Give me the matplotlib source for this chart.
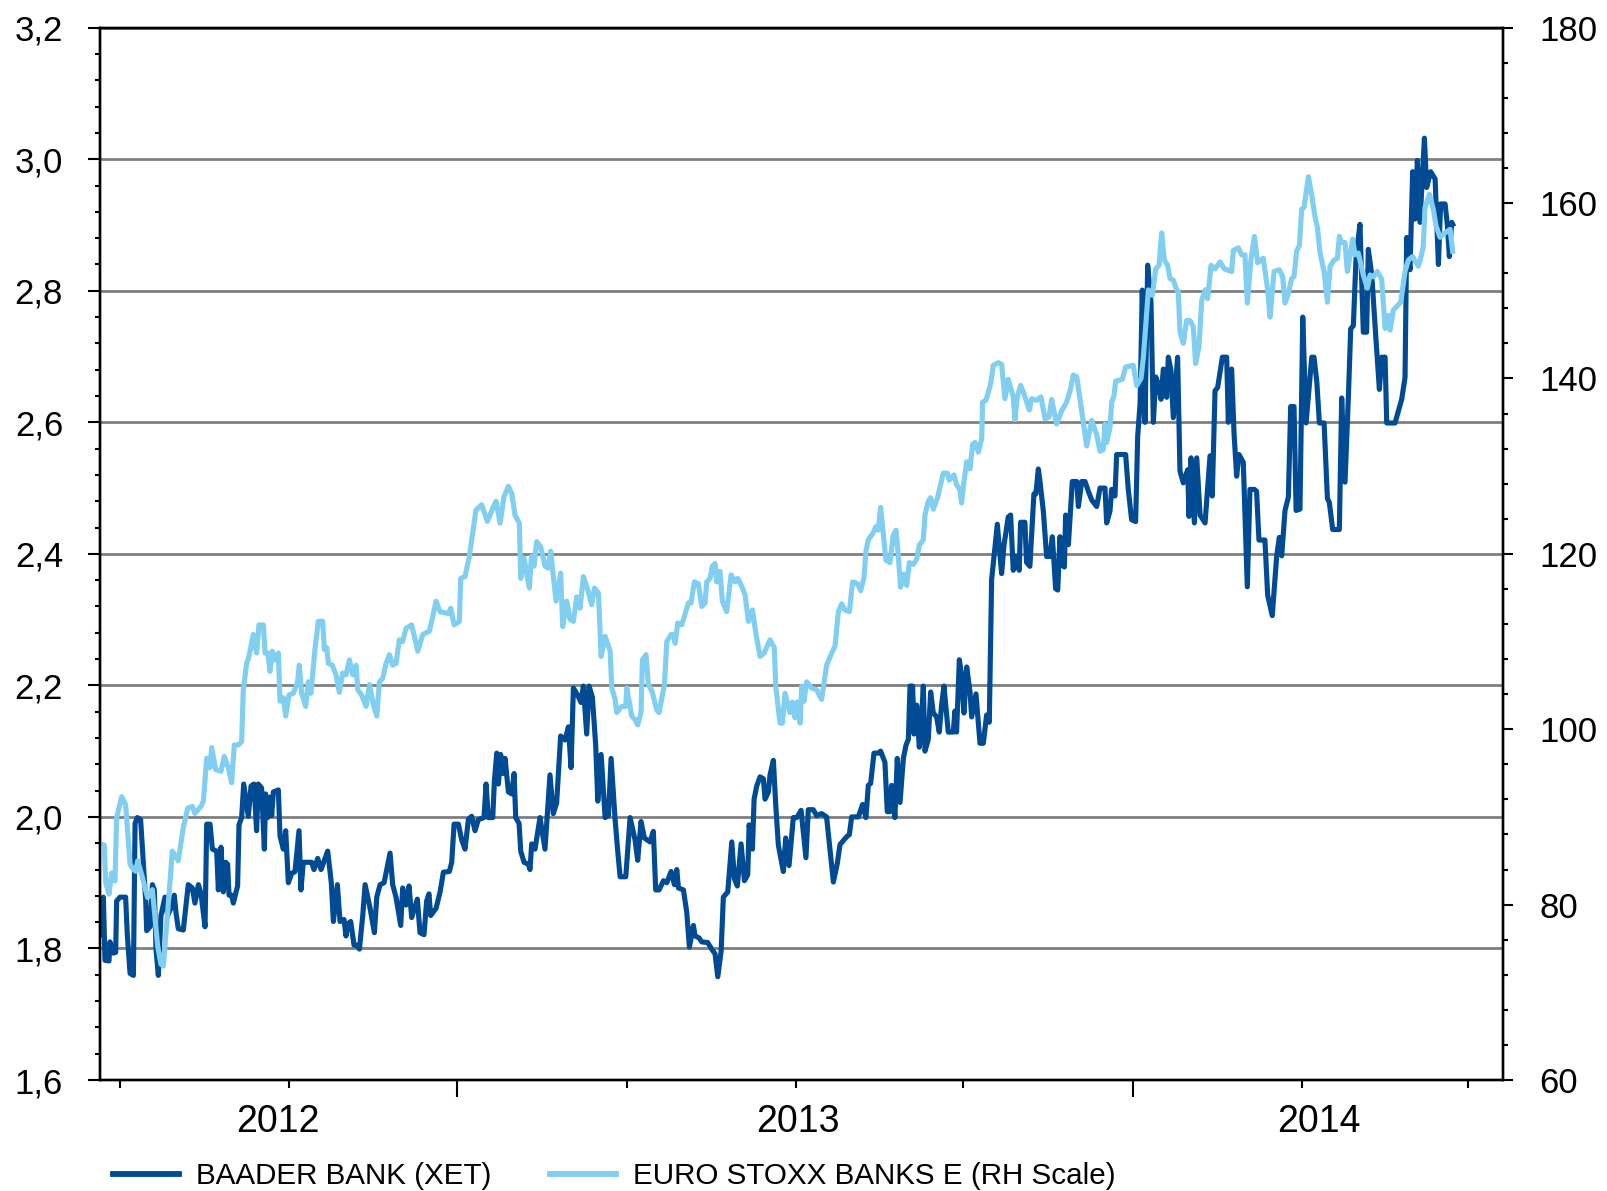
import matplotlib.pyplot as plt
import matplotlib.dates as mdates
from matplotlib.lines import Line2D
from matplotlib.ticker import MultipleLocator, FuncFormatter
import pandas as pd

plt.rcParams['font.family'] = ['Liberation Sans', 'DejaVu Sans']

# x values are days counted from 1 Jan 2012
base = pd.Timestamp('2012-01-01')

baader_t = [-136.4, -134.0, -132.8, -129.9, -129.2, -126.8, -125.1, -124.4, -122.0, -117.9,
            -116.7, -114.7, -112.3, -111.1, -109.5, -107.1, -105.1, -103.4, -102.7, -100.3,
            -98.6, -97.2, -96.0, -94.3, -92.4, -89.5, -87.6, -84.2, -82.8, -81.6,
            -79.9, -76.3, -74.6, -72.7, -69.8, -67.9, -65.4, -63.5, -60.6, -59.4,
            -57.0, -55.3, -52.2, -51.0, -49.1, -47.4, -45.7, -44.3, -43.3, -41.4,
            -40.2, -37.1, -36.1, -34.2, -32.7, -29.4, -27.4, -25.3, -23.4, -22.2,
            -19.8, -17.8, -16.9, -15.4, -13.7, -12.5, -11.3, -7.7, -6.5, -4.1,
            -2.4, -0.5, 1.9, 4.3, 7.2, 8.6, 10.3, 16.3, 18.0, 20.7,
            23.1, 27.9, 30.5, 32.0, 34.9, 36.8, 39.7, 41.1, 42.8, 44.5,
            46.9, 48.8, 50.8, 53.2, 54.9, 58.5, 61.6, 63.3, 65.7, 68.6,
            72.9, 74.8, 77.2, 80.6, 82.0, 84.4, 86.6, 88.5, 92.6, 94.5,
            97.4, 99.3, 101.0, 102.2, 106.1, 109.0, 111.4, 115.7, 117.4, 119.1,
            122.2, 124.6, 127.0, 129.4, 131.8, 134.2, 136.6, 140.7, 142.2, 143.8,
            147.0, 148.2, 149.9, 151.1, 152.7, 154.2, 155.9, 158.3, 160.7, 162.4,
            163.6, 166.0, 167.2, 169.6, 172.7, 173.9, 175.1, 177.5, 181.1, 184.7,
            188.3, 190.7, 193.1, 196.0, 199.2, 201.6, 203.5, 205.2, 208.3, 210.7,
            212.4, 214.8, 216.5, 218.9, 221.3, 222.8, 225.2, 228.1, 230.5, 232.4,
            235.3, 237.2, 238.9, 243.0, 246.1, 249.7, 251.6, 254.0, 256.4, 260.5,
            262.9, 264.6, 267.0, 270.2, 272.6, 275.7, 278.1, 279.8, 281.0, 284.6,
            287.0, 288.9, 291.8, 293.0, 295.9, 297.8, 302.1, 305.0, 307.4, 309.4,
            311.8, 313.4, 316.6, 319.5, 321.4, 323.5, 326.2, 328.6, 331.0, 332.0,
            334.4, 335.6, 337.5, 339.9, 342.3, 343.5, 345.9, 347.1, 349.5, 351.2,
            353.1, 356.7, 358.4, 360.8, 363.9, 366.4, 369.5, 373.0, 374.7, 378.3,
            380.7, 384.3, 387.9, 392.8, 395.6, 397.6, 400.0, 402.4, 404.3, 406.0,
            410.8, 413.9, 416.3, 418.0, 419.7, 422.1, 425.2, 426.9, 430.0, 431.7,
            433.6, 434.8, 437.2, 438.9, 440.9, 443.3, 445.2, 446.9, 448.1, 450.0,
            451.0, 452.9, 454.8, 455.8, 457.7, 458.9, 461.3, 463.0, 464.9, 467.3,
            469.2, 470.9, 472.6, 475.7, 479.3, 480.5, 481.7, 483.7, 485.3, 487.0,
            489.0, 491.4, 492.6, 495.7, 498.6, 501.0, 503.4, 505.3, 507.0, 511.1,
            514.2, 515.9, 519.0, 520.7, 522.6, 524.5, 526.9, 527.9, 531.0, 532.2,
            534.6, 537.5, 538.9, 540.7, 541.9, 544.3, 546.7, 549.1, 550.8, 553.2,
            554.7, 556.3, 558.0, 559.5, 560.4, 562.4, 565.2, 568.4, 569.6, 572.0,
            574.4, 576.8, 579.2, 582.8, 585.2, 588.8, 590.0, 592.4, 593.6, 596.0,
            597.2, 603.7, 605.6, 608.0, 610.9, 612.4, 614.1, 615.7, 617.7, 619.6,
            622.0, 623.7, 625.4, 627.3, 629.2, 630.9, 633.3, 634.5, 636.4, 638.1,
            641.2, 642.9, 645.3, 648.5, 649.4, 650.9, 653.3, 655.0, 657.4, 661.0,
            664.6, 666.2, 668.2, 670.1, 673.5, 676.6, 677.8, 680.2, 681.9, 683.8,
            685.5, 688.6, 691.5, 693.4, 696.6, 698.2, 699.9, 704.2, 706.2, 709.5,
            712.7, 714.6, 716.3, 718.7, 721.1, 722.8, 725.2, 726.7, 729.5, 731.5,
            733.9, 738.0, 739.6, 741.6, 743.5, 746.9, 749.3, 750.7, 753.1, 757.9,
            759.6, 762.0, 764.4, 766.1, 768.0, 770.0, 772.8, 775.2, 777.6, 778.8,
            781.3, 784.4, 786.8, 788.5, 790.9, 792.1, 798.1, 800.5, 802.9, 805.3,
            806.5, 808.9, 810.8, 812.5, 814.2, 816.1, 819.3, 820.9, 823.8, 827.0,
            829.4, 831.0, 834.2, 835.8, 837.3, 839.0, 839.7]

baader = [1.821, 1.878, 1.782, 1.781, 1.810, 1.793, 1.794, 1.872, 1.878, 1.878,
          1.821, 1.762, 1.759, 1.990, 1.999, 1.996, 1.928, 1.872, 1.827, 1.833,
          1.897, 1.889, 1.799, 1.759, 1.850, 1.878, 1.850, 1.866, 1.881, 1.855,
          1.830, 1.828, 1.861, 1.897, 1.892, 1.869, 1.897, 1.883, 1.833, 1.989,
          1.989, 1.951, 1.948, 1.889, 1.954, 1.886, 1.931, 1.928, 1.881, 1.881,
          1.869, 1.895, 1.988, 1.999, 2.050, 2.001, 2.047, 2.050, 1.979, 2.050,
          2.044, 1.951, 2.035, 1.999, 2.030, 2.002, 2.038, 2.041, 1.971, 1.951,
          1.979, 1.900, 1.914, 1.917, 1.979, 1.889, 1.931, 1.931, 1.920, 1.937,
          1.920, 1.948, 1.900, 1.841, 1.897, 1.841, 1.844, 1.819, 1.838, 1.841,
          1.805, 1.805, 1.799, 1.850, 1.897, 1.861, 1.824, 1.878, 1.897, 1.900,
          1.945, 1.897, 1.878, 1.835, 1.892, 1.866, 1.895, 1.847, 1.875, 1.824,
          1.821, 1.872, 1.883, 1.850, 1.861, 1.886, 1.916, 1.917, 1.931, 1.989,
          1.989, 1.965, 1.951, 1.996, 2.001, 1.979, 1.996, 1.999, 2.050, 1.999,
          1.999, 2.055, 2.097, 2.050, 2.095, 2.066, 2.089, 2.038, 2.035, 2.066,
          1.999, 1.990, 1.948, 1.931, 1.928, 1.920, 1.959, 1.951, 1.999, 1.951,
          2.064, 2.005, 2.021, 2.123, 2.117, 2.137, 2.075, 2.196, 2.185, 2.174,
          2.199, 2.126, 2.199, 2.182, 2.109, 2.024, 2.095, 1.999, 2.002, 2.089,
          1.996, 1.948, 1.909, 1.909, 1.999, 1.965, 1.934, 1.993, 1.968, 1.962,
          1.978, 1.889, 1.889, 1.903, 1.900, 1.917, 1.897, 1.920, 1.892, 1.889,
          1.855, 1.802, 1.835, 1.819, 1.816, 1.810, 1.809, 1.799, 1.792, 1.757,
          1.796, 1.878, 1.886, 1.962, 1.906, 1.895, 1.959, 1.903, 1.912, 1.988,
          1.951, 2.027, 2.047, 2.061, 2.058, 2.027, 2.038, 2.064, 2.086, 2.019,
          1.957, 1.917, 1.968, 1.926, 1.999, 1.999, 2.010, 1.938, 2.011, 2.011,
          2.002, 2.005, 2.000, 1.901, 1.929, 1.958, 1.964, 1.970, 1.973, 2.000,
          2.000, 2.019, 1.999, 2.048, 2.051, 2.097, 2.097, 2.100, 2.083, 2.008,
          2.008, 2.048, 1.999, 2.089, 2.022, 2.089, 2.109, 2.118, 2.199, 2.199,
          2.126, 2.170, 2.106, 2.126, 2.199, 2.100, 2.118, 2.190, 2.158, 2.152,
          2.129, 2.170, 2.199, 2.129, 2.129, 2.161, 2.129, 2.239, 2.216, 2.158,
          2.228, 2.190, 2.152, 2.187, 2.112, 2.112, 2.155, 2.144, 2.361, 2.445,
          2.370, 2.413, 2.456, 2.459, 2.375, 2.396, 2.375, 2.448, 2.448, 2.387,
          2.381, 2.491, 2.491, 2.529, 2.510, 2.465, 2.396, 2.396, 2.426, 2.347,
          2.345, 2.426, 2.383, 2.380, 2.459, 2.414, 2.510, 2.510, 2.472, 2.510,
          2.510, 2.495, 2.482, 2.472, 2.500, 2.500, 2.447, 2.465, 2.498, 2.488,
          2.551, 2.551, 2.498, 2.452, 2.449, 2.579, 2.628, 2.801, 2.600, 2.839,
          2.781, 2.600, 2.669, 2.658, 2.635, 2.681, 2.638, 2.699, 2.679, 2.607,
          2.699, 2.526, 2.508, 2.528, 2.457, 2.546, 2.447, 2.546, 2.459, 2.447,
          2.549, 2.488, 2.648, 2.653, 2.699, 2.699, 2.600, 2.681, 2.584, 2.518,
          2.551, 2.539, 2.350, 2.498, 2.498, 2.495, 2.421, 2.421, 2.337, 2.306,
          2.397, 2.425, 2.397, 2.466, 2.486, 2.624, 2.624, 2.466, 2.468, 2.760,
          2.599, 2.699, 2.699, 2.663, 2.599, 2.599, 2.484, 2.478, 2.437, 2.437,
          2.637, 2.509, 2.637, 2.742, 2.747, 2.852, 2.901, 2.737, 2.737, 2.863,
          2.824, 2.724, 2.650, 2.699, 2.699, 2.599, 2.599, 2.617, 2.635, 2.668,
          2.881, 2.832, 2.981, 2.909, 2.998, 2.904, 3.032, 2.957, 2.981, 2.970,
          2.840, 2.932, 2.932, 2.901, 2.852, 2.904, 2.901]

stoxx_t = [-135.2, -133.3, -132.3, -129.9, -128.0, -125.6, -124.4, -122.7, -120.8, -117.9,
           -114.7, -112.3, -110.7, -109.2, -106.3, -103.9, -102.0, -98.6, -94.8, -92.4,
           -90.7, -87.6, -84.2, -81.1, -79.9, -76.3, -73.1, -69.8, -67.9, -63.5,
           -61.8, -59.4, -57.0, -55.8, -52.9, -49.1, -46.7, -43.8, -41.4, -39.5,
           -36.6, -34.2, -33.0, -30.6, -28.9, -25.8, -23.4, -21.7, -18.5, -17.3,
           -15.4, -13.7, -12.1, -10.1, -7.7, -6.5, -4.1, -2.4, 0.0, 3.1,
           6.2, 7.4, 9.1, 12.0, 13.9, 15.8, 18.7, 21.1, 24.3, 25.5,
           27.2, 28.4, 31.2, 33.9, 36.3, 38.7, 41.1, 43.6, 46.0, 48.4,
           49.6, 52.4, 55.6, 58.0, 60.9, 63.3, 65.2, 67.6, 70.0, 72.4,
           74.8, 77.2, 79.6, 82.0, 84.4, 88.5, 92.9, 96.5, 101.3, 104.2,
           106.1, 109.0, 115.0, 116.7, 119.1, 122.9, 123.9, 127.0, 130.1, 134.9,
           139.0, 143.1, 147.0, 149.4, 152.3, 155.1, 158.3, 160.7, 163.1, 166.2,
           167.2, 169.6, 173.4, 174.9, 176.8, 178.7, 181.6, 184.7, 187.1, 188.8,
           192.7, 196.0, 197.5, 200.4, 202.8, 205.2, 207.6, 210.0, 212.4, 215.6,
           218.4, 220.4, 223.3, 225.2, 228.1, 231.7, 232.9, 235.3, 236.5, 240.1,
           243.0, 243.7, 247.3, 249.7, 251.6, 254.0, 255.0, 257.6, 259.3, 262.2,
           265.3, 267.0, 270.9, 272.6, 275.7, 277.4, 278.6, 280.5, 283.4, 288.2,
           290.1, 292.5, 295.4, 297.8, 300.2, 301.4, 303.8, 305.5, 307.4, 308.6,
           311.0, 312.7, 315.8, 319.0, 321.9, 323.8, 326.7, 329.1, 331.5, 334.4,
           337.0, 339.9, 343.0, 345.9, 347.1, 350.2, 351.2, 354.3, 356.0, 357.9,
           361.5, 363.2, 365.1, 366.8, 368.8, 370.0, 371.6, 373.5, 377.1, 380.7,
           384.3, 387.9, 390.8, 394.0, 396.4, 398.8, 401.2, 404.3, 406.7, 410.1,
           412.5, 414.9, 416.3, 418.0, 421.1, 423.5, 425.2, 426.9, 430.7, 433.6,
           436.0, 438.0, 439.6, 441.3, 443.7, 445.7, 447.6, 450.5, 452.9, 454.8,
           457.7, 458.9, 461.3, 463.0, 464.9, 467.8, 472.1, 475.0, 476.4, 479.8,
           481.7, 484.1, 485.3, 487.0, 489.0, 491.4, 493.3, 495.0, 497.4, 499.8,
           500.5, 502.9, 506.3, 508.2, 511.8, 514.2, 516.6, 519.0, 522.6, 523.8,
           525.5, 527.9, 529.8, 534.2, 535.9, 539.5, 542.6, 545.5, 548.4, 550.3,
           553.9, 557.5, 561.1, 563.6, 566.0, 568.4, 572.0, 575.6, 579.2, 582.8,
           585.2, 587.6, 588.8, 590.0, 592.4, 593.6, 595.3, 596.5, 601.3, 603.7,
           609.2, 611.7, 614.8, 616.5, 620.1, 623.0, 625.4, 627.8, 629.7, 631.6,
           634.0, 635.7, 638.1, 640.5, 641.7, 642.9, 645.3, 647.7, 650.1, 652.5,
           654.2, 656.6, 658.6, 661.0, 662.9, 665.3, 668.2, 671.8, 674.9, 680.2,
           681.4, 685.0, 687.4, 689.8, 691.5, 694.1, 696.6, 699.0, 703.0, 706.2,
           707.9, 710.8, 714.6, 717.0, 718.7, 721.1, 723.5, 725.2, 727.1, 729.1,
           730.7, 732.4, 735.6, 738.0, 740.4, 742.1, 744.0, 746.9, 749.3, 751.2,
           754.1, 756.5, 757.9, 759.6, 762.0, 763.7, 767.5, 769.2, 771.6, 775.2,
           778.1, 780.1, 782.5, 785.3, 788.5, 790.9, 793.3, 794.5, 796.9, 799.3,
           802.2, 805.3, 807.7, 810.8, 814.9, 816.6, 818.5, 819.7, 822.9, 825.7,
           827.7, 830.6, 834.2, 837.8, 839.7]

stoxx = [86.9, 86.8, 82.5, 81.2, 83.6, 82.7, 89.9, 91.0, 92.3, 91.4,
         84.6, 84.0, 83.8, 85.0, 83.4, 81.9, 80.8, 81.7, 75.3, 73.2,
         73.0, 79.1, 86.1, 85.3, 85.0, 88.8, 91.0, 91.2, 90.4, 91.2,
         91.8, 96.7, 95.6, 97.9, 95.4, 95.2, 96.9, 95.6, 93.9, 98.2,
         98.2, 98.6, 104.5, 107.5, 108.3, 110.8, 108.7, 111.9, 111.9, 108.7,
         108.7, 106.6, 108.9, 107.9, 108.7, 103.2, 103.6, 101.5, 103.9, 104.1,
         105.4, 107.3, 104.1, 102.6, 105.4, 104.1, 109.1, 112.3, 112.3, 109.1,
         109.3, 107.5, 107.3, 106.2, 104.2, 106.4, 106.2, 107.9, 106.2, 107.3,
         104.5, 103.9, 102.6, 105.1, 102.8, 101.5, 105.4, 105.8, 107.5, 108.5,
         107.3, 107.5, 110.2, 110.0, 111.5, 111.9, 108.9, 110.8, 111.2, 113.2,
         114.6, 113.4, 113.2, 113.8, 111.9, 112.3, 117.2, 117.4, 119.7, 125.0,
         125.6, 123.7, 125.2, 126.0, 123.5, 126.5, 127.7, 126.9, 124.4, 123.5,
         117.2, 119.5, 116.1, 119.7, 118.6, 121.4, 120.8, 118.6, 118.4, 120.3,
         114.6, 117.8, 111.7, 114.6, 112.5, 112.3, 115.1, 113.8, 117.4, 115.9,
         114.2, 116.1, 115.5, 108.3, 110.6, 108.9, 104.7, 103.4, 101.9, 102.6,
         102.6, 104.7, 101.5, 101.1, 100.5, 101.9, 107.9, 108.5, 105.1, 104.2,
         102.2, 101.9, 105.1, 110.0, 110.8, 110.8, 109.8, 112.1, 111.9, 114.4,
         114.4, 116.8, 116.6, 114.0, 114.4, 116.8, 117.2, 118.6, 118.9, 116.8,
         118.0, 114.6, 113.4, 117.6, 116.8, 117.2, 116.3, 115.3, 112.3, 113.6,
         110.8, 108.3, 108.7, 109.8, 110.2, 109.3, 104.9, 100.7, 100.7, 104.1,
         101.9, 103.1, 101.3, 103.1, 100.7, 104.9, 103.2, 105.4, 104.7, 104.5,
         103.4, 107.3, 108.4, 109.5, 113.4, 114.3, 113.6, 113.4, 116.8, 116.6,
         115.8, 117.3, 120.3, 121.6, 122.3, 123.1, 122.7, 125.3, 119.3, 119.0,
         122.1, 122.7, 119.9, 116.2, 117.7, 116.4, 119.0, 118.8, 119.4, 121.0,
         121.6, 124.4, 126.0, 126.4, 125.1, 126.3, 129.2, 129.2, 128.4, 129.0,
         127.9, 127.3, 125.8, 128.2, 130.5, 129.7, 132.5, 132.7, 131.6, 133.1,
         137.3, 137.5, 139.4, 141.5, 141.8, 141.6, 137.7, 139.9, 137.9, 135.3,
         137.9, 139.2, 138.5, 136.4, 137.7, 137.5, 137.9, 135.4, 135.6, 137.6,
         134.8, 136.3, 137.3, 138.6, 140.4, 140.2, 136.3, 132.3, 135.2, 133.6,
         131.7, 131.9, 134.8, 132.7, 134.4, 137.3, 138.0, 139.7, 139.9, 141.3,
         141.5, 139.2, 140.0, 142.4, 150.1, 149.5, 152.5, 152.9, 156.6, 153.5,
         152.9, 151.4, 151.2, 150.1, 149.9, 145.3, 144.0, 146.6, 146.6, 145.9,
         141.7, 143.6, 148.9, 150.1, 149.1, 152.9, 152.5, 153.3, 152.5, 152.2,
         154.6, 154.9, 154.1, 154.1, 148.6, 153.5, 156.2, 153.2, 153.7, 150.1,
         147.0, 152.2, 152.4, 151.6, 148.6, 149.7, 151.4, 151.6, 154.5, 155.2,
         159.3, 159.5, 163.0, 160.9, 158.4, 157.2, 154.3, 152.2, 148.7, 152.8,
         153.5, 153.7, 156.2, 155.5, 155.5, 152.2, 155.9, 154.1, 154.3, 151.8,
         150.3, 151.8, 151.6, 152.2, 151.3, 145.7, 147.2, 145.5, 147.8, 148.2,
         148.7, 152.2, 153.5, 153.9, 152.8, 153.7, 155.1, 159.5, 161.0, 159.3,
         157.4, 156.1, 156.6, 157.0, 154.5]

labels = ['BAADER BANK (XET)', 'EURO STOXX BANKS E (RH Scale)']
tick_dates = ['2011-09-01', '2012-01-01', '2012-05-01', '2012-09-01', '2013-01-01',
              '2013-05-01', '2013-09-01', '2014-01-01', '2014-05-01']
year_dates = ['2011-12-24', '2013-01-02', '2014-01-13']
year_labels = ['2012', '2013', '2014']

dark = '#004B93'
light = '#80CEF0'


def to_dates(days):
    return base + pd.to_timedelta(days, unit='D')


def comma(v, pos):
    return f'{v:.1f}'.replace('.', ',')


fig = plt.figure(figsize=(16.07, 11.91), dpi=100)
ax = fig.add_axes([100 / 1607, 1 - 1080 / 1191, 1403 / 1607, (1080 - 27.7) / 1191])
ax2 = ax.twinx()

ax.plot(to_dates(baader_t), baader, color=dark, lw=3.7)
ax2.plot(to_dates(stoxx_t), stoxx, color=light, lw=3.7)

ax.set_xlim(to_dates(-136.4), to_dates(876.0))
ax.set_ylim(1.6, 3.2)
ax2.set_ylim(60, 180)

ax.yaxis.set_major_locator(MultipleLocator(0.2))
ax.yaxis.set_minor_locator(MultipleLocator(0.04))
ax.yaxis.set_major_formatter(FuncFormatter(comma))
ax2.yaxis.set_major_locator(MultipleLocator(20))
ax2.yaxis.set_minor_locator(MultipleLocator(4))

ax.grid(axis='y', which='major', color='#808080', lw=2.0)

ax.set_xticks(mdates.date2num(pd.to_datetime(tick_dates)), labels=[''] * len(tick_dates))
ax.set_xticks(mdates.date2num(pd.to_datetime(year_dates)), labels=year_labels, minor=True)
ax.tick_params(axis='x', which='major', length=6, width=1.5, direction='out')
ax.tick_params(axis='x', which='minor', length=0, pad=17, labelsize=27)
for i in (2, 6):
    ax.xaxis.get_major_ticks()[i].tick1line.set_markersize(12)

ax.tick_params(axis='y', which='major', length=8.6, width=1.5, pad=18, labelsize=25)
ax.tick_params(axis='y', which='minor', length=3.6, width=1.5)
ax2.tick_params(axis='y', which='major', length=7.2, width=1.5, pad=19, labelsize=25)
ax2.tick_params(axis='y', which='minor', length=3.6, width=1.5)

for a in (ax, ax2):
    for s in a.spines.values():
        s.set_linewidth(1.7)
        s.set_color('black')

handles = [Line2D([], [], color=dark, lw=4.2), Line2D([], [], color=light, lw=4.2)]
fig.legend(handles, labels, loc='center left', bbox_to_anchor=(113 / 1607, 1 - 1176 / 1191),
           ncol=2, frameon=False, fontsize=21.3, handlelength=2.23, handletextpad=0.59,
           columnspacing=1.96, borderpad=0, borderaxespad=0)

fig.savefig('out.png', dpi=100)
